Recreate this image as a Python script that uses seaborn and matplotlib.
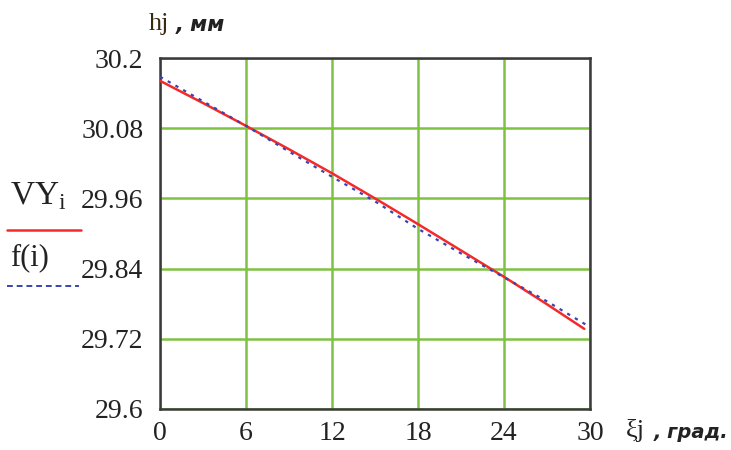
import matplotlib
matplotlib.use("Agg")
import matplotlib.pyplot as plt
import seaborn as sns
import pandas as pd

# data
red_x = [0, 3, 6, 9, 12, 15, 18, 21, 24, 27, 29.6]
red_y = [30.161, 30.123, 30.084, 30.044, 30.003, 29.960, 29.916, 29.871, 29.826, 29.779, 29.737]
blue_x = [0, 3, 6, 9, 12, 15, 18, 21, 24, 27, 30]
blue_y = [30.168, 30.126, 30.084, 30.040, 29.997, 29.955, 29.908, 29.866, 29.825, 29.784, 29.740]
x_ticks = [0, 6, 12, 18, 24, 30]
y_ticks = [29.6, 29.72, 29.84, 29.96, 30.08, 30.2]
y_tick_labels = ["29.6", "29.72", "29.84", "29.96", "30.08", "30.2"]

sns.set_style("white")
plt.rcParams['font.family'] = ['Liberation Serif', 'DejaVu Serif']

red_df = pd.DataFrame({"x": red_x, "y": red_y})
blue_df = pd.DataFrame({"x": blue_x, "y": blue_y})

fig = plt.figure(figsize=(7.31, 4.5), dpi=100)
ax = fig.add_axes([160 / 731, 41 / 450, 430 / 731, 351 / 450])

sns.lineplot(data=red_df, x="x", y="y", color="#f42a2a", linewidth=1.8, ax=ax, zorder=3)
sns.lineplot(data=blue_df, x="x", y="y", color="#3a44b0", linewidth=1.6,
             linestyle=(0, (1.5, 2.5)), ax=ax, zorder=4)

ax.set_xlim(0, 30)
ax.set_ylim(29.6, 30.2)
ax.set_xticks(x_ticks)
ax.set_yticks(y_ticks)
ax.set_yticklabels(y_tick_labels)
ax.tick_params(axis="both", labelsize=20, length=0, colors="#222222")
ax.tick_params(axis="x", pad=9)
ax.tick_params(axis="y", pad=12)
ax.grid(True, color="#7dc242", linewidth=1.8)
ax.set_axisbelow(True)
for s in ax.spines.values():
    s.set_color("#3a3a3a")
    s.set_linewidth(1.8)
ax.set_xlabel("")
ax.set_ylabel("")

# axis titles in Mathcad style
fig.text(149 / 731, 1 - 24 / 450, "hj", fontsize=19, color="#3a2a10", va="center", ha="left")
fig.text(176 / 731, 1 - 25 / 450, ", мм", fontsize=15, fontweight="bold", style="italic",
         family=["DejaVu Sans"], color="#222222", va="center", ha="left")
fig.text(626 / 731, 1 - 431 / 450, "ξj", fontsize=19, color="#222222", va="center", ha="left")
fig.text(654 / 731, 1 - 433 / 450, ", град.", fontsize=14, fontweight="bold", style="italic",
         family=["DejaVu Sans"], color="#222222", va="center", ha="left")

# left-hand legend
fig.text(10 / 731, 1 - 196 / 450, r"VY$_\mathregular{i}$", fontsize=24, color="#222222",
         va="center", ha="left")
fig.add_artist(plt.Line2D([7 / 731, 81 / 731], [1 - 230 / 450, 1 - 230 / 450],
                          color="#f42a2a", linewidth=1.8))
fig.text(10 / 731, 1 - 258 / 450, "f(i)", fontsize=22, color="#222222", va="center", ha="left")
fig.add_artist(plt.Line2D([7 / 731, 79 / 731], [1 - 286 / 450, 1 - 286 / 450],
                          color="#3a44b0", linewidth=1.4, linestyle=(0, (3, 2))))

fig.savefig("out.png", dpi=100)
